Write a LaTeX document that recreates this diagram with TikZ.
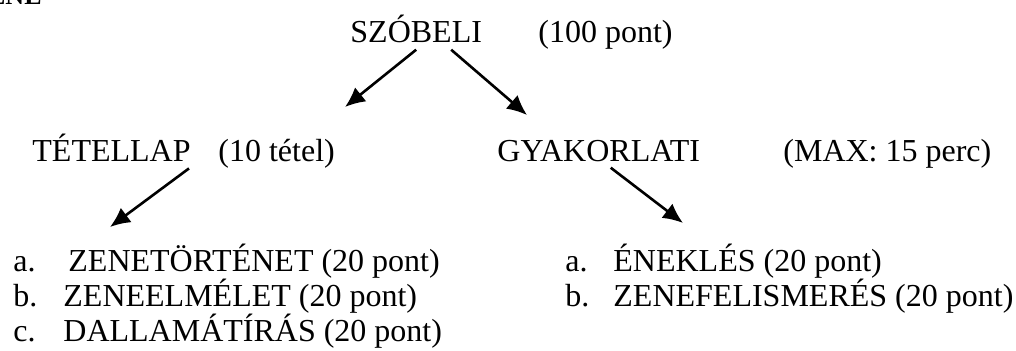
\documentclass[tikz,border=0pt]{standalone}
\usepackage{fontspec}
\setmainfont{Liberation Serif}
\usetikzlibrary{arrows.meta,positioning}

\begin{document}
\begin{tikzpicture}[x=0.5pt,y=-0.5pt,
    txt/.style={anchor=base west,inner sep=0pt,font=\fontsize{16}{18}\selectfont},
    arr/.style={line width=1.3pt,-{Latex[length=10pt,width=9pt]}}]
    \clip (0,0) rectangle (1016,350);
    % cut-off heading at the top edge
    \node[anchor=base east,inner sep=0pt,font=\fontsize{13}{15}\selectfont\bfseries] (head) at (42,4) {ENE};

    \node[txt] (szobeli) at (350,42) {SZÓBELI};
    \node[txt] (pont100) at (538,42) {(100 pont)};

    \node[txt] (tetellap) at (32,161) {TÉTELLAP};
    \node[txt] (tetel10) at (218,161) {(10 tétel)};
    \node[txt] (gyak) at (497,161) {GYAKORLATI};
    \node[txt] (max15) at (783,161) {(MAX: 15 perc)};

    % left list
    \node[txt] (la) at (13,271) {a.};
    \node[txt] (zenetort) at (68,271) {ZENETÖRTÉNET (20 pont)};
    \node[txt] (lb) at (13,306) {b.};
    \node[txt] (zeneelm) at (63,306) {ZENEELMÉLET (20 pont)};
    \node[txt] (lc) at (13,341) {c.};
    \node[txt] (dallam) at (63,341) {DALLAMÁTÍRÁS (20 pont)};

    % right list
    \node[txt] (ra) at (565,271) {a.};
    \node[txt] (enekles) at (613,271) {ÉNEKLÉS (20 pont)};
    \node[txt] (rb) at (565,306) {b.};
    \node[txt] (zenefel) at (613,306) {ZENEFELISMERÉS (20 pont)};

    \coordinate (tipl) at (345,107);
    \coordinate (tipr) at (527,115);
    \coordinate (tipll) at (110,227);
    \coordinate (tiprr) at (683,223);

    \draw[arr] ([yshift=-3.5pt]szobeli.south) -- (tipl);
    \draw[arr] ([xshift=17.5pt,yshift=-3.5pt]szobeli.south) -- (tipr);
    \draw[arr] ([xshift=-1pt,yshift=-3.5pt]tetellap.south east) -- (tipll);
    \draw[arr] ([xshift=6pt,yshift=-3pt]gyak.south) -- (tiprr);
\end{tikzpicture}
\end{document}
